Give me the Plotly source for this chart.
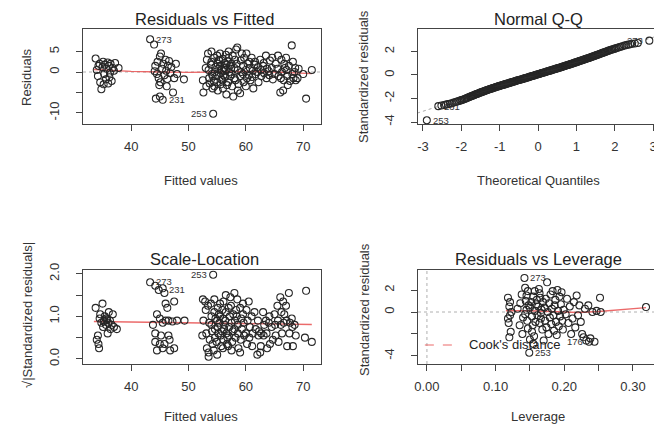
import plotly.graph_objects as go

# The page body has an 8px margin, so the figure is drawn 8px in from the window corner.
WIN_W, WIN_H = 662, 425
OFF = 8
W, H = WIN_W - OFF, WIN_H - OFF

# ---------------- Residuals vs Fitted (fitted, residual) ----------------
rvf_points = [
    (33.8, 3.3), (34.0, 0.5), (34.2, -1.0), (34.5, 2.0), (34.6, -2.5), (34.8, -4.2), (35.0, 1.2),
    (35.1, 2.5), (35.3, -0.5), (35.4, 1.8), (35.6, -1.8), (35.7, 0.8), (35.9, 2.3), (36.0, -2.8),
    (36.1, 1.5), (36.3, -0.2), (36.4, 2.0), (36.6, -2.2), (36.8, 1.0), (37.0, 0.3), (37.2, 2.2),
    (35.2, -3.0), (34.3, 1.5), (36.2, -1.3), (37.8, 1.0),
    (43.3, 8.0), (44.0, 6.7), (44.2, 1.5), (44.5, -0.5), (44.6, 2.5), (44.8, -1.5), (45.0, 3.8),
    (45.1, -2.5), (45.2, 4.5), (45.4, 0.8), (45.5, -6.8), (45.6, 2.0), (45.8, -0.8), (46.0, 3.0),
    (46.1, 0.3), (46.3, -1.7), (46.4, 1.5), (46.6, 2.7), (46.8, -0.3), (47.0, 1.2), (47.3, -5.0),
    (47.5, -1.5), (44.3, -6.5), (45.0, -6.0), (46.2, -3.5), (44.9, -3.2), (48.0, -0.5),
    (49.2, -1.8), (47.8, 2.0), (44.1, 0.2),
    (52.5, -2.0), (52.6, -5.0), (53.0, 1.0), (53.1, -3.5), (53.2, 3.0),
    (53.5, 0.5), (53.6, -1.5), (53.4, 4.5), (53.7, -2.8),
    (54.0, 2.5), (54.1, -0.5), (53.9, 1.8), (54.2, -4.0), (54.0, 5.0), (54.2, -1.0),
    (54.3, -10.2),
    (54.5, 3.5), (54.6, 0.0), (54.4, -2.2), (54.7, 1.2), (54.5, -3.5),
    (55.0, 4.0), (55.1, 2.0), (54.9, -1.0), (55.2, 0.8), (55.0, -2.5), (55.1, -4.5), (55.3, 3.0),
    (55.5, 1.5), (55.6, -0.3), (55.4, 2.8), (55.7, -1.8), (55.5, 4.5), (55.6, -3.0), (55.8, 0.5),
    (56.0, 3.2), (56.1, 0.2), (55.9, -2.0), (56.2, 1.0), (56.0, -4.0), (56.3, 2.2), (56.1, -0.8),
    (56.5, 4.2), (56.6, 1.8), (56.4, -1.2), (56.7, -3.2), (56.5, 0.6), (56.8, 2.6), (56.6, -5.5),
    (57.0, 5.0), (57.1, 0.0), (56.9, -2.5), (57.2, 1.5), (57.0, 3.5), (57.3, -1.0),
    (57.5, 2.0), (57.6, -3.5), (57.4, 0.8), (57.7, 4.0), (57.5, -0.5), (57.8, -6.0),
    (58.0, 1.0), (58.1, 3.0), (58.2, -2.0), (58.3, 5.5), (58.0, -1.5),
    (58.5, 6.0), (58.6, 0.5), (58.7, -3.0), (58.4, 2.0), (58.6, -4.5),
    (59.0, -1.0), (59.1, 2.8), (59.2, 0.0), (59.0, -5.2), (59.3, 4.5),
    (59.5, 1.5), (59.6, -2.5), (59.7, 3.5), (59.5, -0.5),
    (60.0, 0.5), (60.1, 4.5), (60.2, -1.5), (60.3, 2.0), (60.0, -3.5),
    (60.5, -0.8), (60.6, 2.5), (60.7, 1.0), (60.8, -2.0),
    (61.0, 3.5), (61.2, 0.3), (61.1, -1.2), (61.3, -4.0),
    (61.5, 1.8), (61.7, -0.5), (61.6, 2.5),
    (62.0, 0.0), (62.2, -2.5), (62.1, 1.2),
    (62.5, 3.0), (62.7, -1.0), (62.6, 0.5),
    (63.0, 1.5), (63.2, -0.3), (63.1, 2.2),
    (63.5, 4.0), (63.7, 0.8), (63.6, -1.5),
    (64.0, 0.2), (64.2, 2.8), (64.1, -0.8),
    (64.5, 1.0), (64.7, -1.8), (64.6, 3.5),
    (65.0, -0.5), (65.2, 2.0),
    (65.5, 0.8), (65.7, -1.0), (65.6, 4.0),
    (66.0, -5.0), (66.2, 3.0), (66.1, -1.5), (66.3, 0.0),
    (66.5, -4.5), (66.7, 2.0), (66.6, -2.0), (66.8, 1.0),
    (67.0, 3.5), (67.2, -1.0), (67.1, 0.5), (67.3, -3.2),
    (67.5, 1.5), (67.7, -2.2),
    (68.0, 6.5), (68.2, 2.5), (68.1, -0.5), (68.3, -1.5),
    (68.5, 0.0), (68.7, -2.0), (68.6, 1.0),
    (69.0, -1.5), (69.2, 0.8),
    (70.0, -0.5), (70.5, -6.5), (71.5, 0.5),
]
rvf_fitted = [p[0] for p in rvf_points]
rvf_resid = [p[1] for p in rvf_points]
rvf_smooth_x = [33.5, 36, 40, 45, 50, 55, 60, 65, 68, 71.5]
rvf_smooth_y = [0.6, 0.4, 0.15, 0.0, -0.1, 0.0, 0.15, 0.0, -0.2, -0.4]
rvf_label_x = [43.3, 45.5, 54.3]
rvf_label_y = [8.0, -6.8, -10.2]
rvf_label_text = ["273", "231", "253"]
rvf_label_side = ["right", "right", "left"]

# ---------------- Normal Q-Q ----------------
qq_theoretical = [
    -2.90, -2.60, -2.45, -2.35, -2.25, -2.15, -2.07, -2.00, -1.93, -1.87, -1.81, -1.75, -1.70,
    -1.65, -1.60, -1.55, -1.50, -1.45, -1.40, -1.35, -1.30, -1.25, -1.20, -1.15, -1.10, -1.05,
    -1.00, -0.95, -0.90, -0.85, -0.80, -0.75, -0.70, -0.65, -0.60, -0.55, -0.50, -0.45, -0.40,
    -0.35, -0.30, -0.25, -0.20, -0.15, -0.10, -0.05, 0.00, 0.05, 0.10, 0.15, 0.20, 0.25, 0.30,
    0.35, 0.40, 0.45, 0.50, 0.55, 0.60, 0.65, 0.70, 0.75, 0.80, 0.85, 0.90, 0.95, 1.00, 1.05,
    1.10, 1.15, 1.20, 1.25, 1.30, 1.35, 1.40, 1.45, 1.50, 1.55, 1.60, 1.65, 1.70, 1.75, 1.81,
    1.87, 1.93, 2.00, 2.07, 2.15, 2.25, 2.35, 2.45, 2.60, 2.90,
]
qq_sample = [
    -3.85, -2.65, -2.55, -2.48, -2.40, -2.30, -2.22, -2.14, -2.06, -1.98, -1.90, -1.82, -1.75,
    -1.68, -1.62, -1.55, -1.49, -1.43, -1.37, -1.31, -1.25, -1.19, -1.14, -1.08, -1.03, -0.98,
    -0.93, -0.88, -0.83, -0.78, -0.73, -0.68, -0.63, -0.58, -0.53, -0.48, -0.43, -0.39, -0.34,
    -0.29, -0.24, -0.19, -0.14, -0.09, -0.04, 0.01, 0.06, 0.11, 0.16, 0.21, 0.26, 0.31, 0.36,
    0.41, 0.46, 0.51, 0.56, 0.61, 0.66, 0.71, 0.77, 0.82, 0.87, 0.93, 0.98, 1.04, 1.09, 1.15,
    1.20, 1.26, 1.31, 1.37, 1.42, 1.48, 1.54, 1.60, 1.66, 1.72, 1.78, 1.84, 1.90, 1.96, 2.03,
    2.10, 2.17, 2.24, 2.31, 2.40, 2.50, 2.58, 2.65, 2.72, 2.92,
]
qq_theoretical_more = [
    -2.52, -2.40, -2.30, -2.20, -2.11, -2.03, -1.97, -1.90, -1.84, -1.78,
    -1.725, -1.675, -1.625, -1.575, -1.525, -1.475, -1.425, -1.375, -1.325, -1.275,
    -1.225, -1.175, -1.125, -1.075, -1.025, -0.975, -0.925, -0.875, -0.825, -0.775,
    -0.725, -0.675, -0.625, -0.575, -0.525, -0.475, -0.425, -0.375, -0.325, -0.275,
    -0.225, -0.175, -0.125, -0.075, -0.025, 0.025, 0.075, 0.125, 0.175, 0.225,
    0.275, 0.325, 0.375, 0.425, 0.475, 0.525, 0.575, 0.625, 0.675, 0.725,
    0.775, 0.825, 0.875, 0.925, 0.975, 1.025, 1.075, 1.125, 1.175, 1.225,
    1.275, 1.325, 1.375, 1.425, 1.475, 1.525, 1.575, 1.625, 1.675, 1.725,
    1.78, 1.84, 1.90, 1.97, 2.03, 2.11, 2.20, 2.30, 2.40, 2.52,
]
qq_sample_more = [
    -2.60, -2.52, -2.44, -2.35, -2.26, -2.18, -2.10, -2.02, -1.94, -1.86,
    -1.79, -1.72, -1.65, -1.59, -1.52, -1.46, -1.40, -1.34, -1.28, -1.22,
    -1.17, -1.11, -1.06, -1.00, -0.95, -0.90, -0.85, -0.80, -0.75, -0.70,
    -0.65, -0.60, -0.55, -0.50, -0.45, -0.41, -0.36, -0.31, -0.26, -0.21,
    -0.16, -0.11, -0.06, -0.01, 0.04, 0.09, 0.14, 0.19, 0.24, 0.29,
    0.34, 0.39, 0.44, 0.49, 0.54, 0.59, 0.64, 0.69, 0.74, 0.80,
    0.85, 0.90, 0.96, 1.01, 1.07, 1.12, 1.18, 1.23, 1.29, 1.34,
    1.40, 1.45, 1.51, 1.57, 1.63, 1.69, 1.75, 1.81, 1.87, 1.93,
    1.99, 2.07, 2.14, 2.20, 2.28, 2.36, 2.45, 2.54, 2.62, 2.68,
]
qq_line_x = [-3.3, 3.3]
qq_line_y = [-3.40, 3.52]
qq_label_x = [2.90, -2.90, -2.60]
qq_label_y = [2.92, -3.85, -2.65]
qq_label_text = ["273", "253", "231"]
qq_label_side = ["left", "right", "right"]

# ---------------- Scale-Location (fitted, sqrt|std resid|) ----------------
sl_points = [
    (33.8, 1.2), (34.0, 0.45), (34.2, 0.55), (34.3, 0.35), (34.5, 0.95), (34.6, 1.05), (34.8, 0.85),
    (35.0, 1.3), (35.1, 0.75), (35.3, 0.9), (35.4, 1.0), (35.6, 0.8), (35.7, 0.95), (35.9, 0.6),
    (36.0, 0.85), (36.1, 1.1), (36.3, 0.9), (36.4, 0.7), (36.6, 0.8), (36.8, 1.05), (37.0, 0.75),
    (37.5, 0.7), (34.4, 0.25), (35.2, 0.88), (35.8, 0.92),
    (43.3, 1.80), (44.2, 1.72), (44.8, 1.62), (45.5, 1.66), (45.8, 1.55), (46.0, 1.30), (46.3, 1.20),
    (47.5, 1.35), (44.5, 1.05), (45.0, 0.95), (45.5, 0.85), (46.0, 0.90), (46.5, 0.90), (47.2, 0.88),
    (48.0, 0.90), (49.3, 0.90), (43.8, 0.80), (44.2, 0.60), (45.2, 0.55), (46.5, 0.55), (44.2, 0.40),
    (45.8, 0.35), (46.7, 0.45), (45.5, 0.25), (44.5, 0.20), (47.5, 0.25), (45.0, 0.35), (46.8, 0.20),
    (52.5, 1.4), (52.6, 0.9), (52.4, 0.55),
    (53.0, 1.15), (53.1, 0.6), (53.2, 0.25), (52.9, 1.35),
    (53.5, 0.05), (53.6, 0.85), (53.4, 1.25), (53.7, 0.45), (53.5, 0.15),
    (54.0, 1.0), (54.1, 0.65), (53.9, 1.3), (54.2, 0.35), (54.0, 0.8),
    (54.3, 1.98),
    (54.5, 1.1), (54.6, 0.5), (54.4, 0.2), (54.7, 0.95), (54.5, 1.4), (54.6, 0.7),
    (55.0, 0.9), (55.1, 1.2), (54.9, 0.4), (55.2, 0.6), (55.0, 0.1), (55.3, 1.05), (55.1, 0.75),
    (55.5, 1.3), (55.6, 0.55), (55.4, 0.85), (55.7, 0.3), (55.5, 1.0), (55.8, 0.65),
    (56.0, 0.95), (56.1, 0.45), (55.9, 1.15), (56.2, 0.7), (56.0, 0.25), (56.3, 0.8), (56.1, 1.35),
    (56.5, 1.5), (56.6, 0.6), (56.4, 0.9), (56.7, 0.35), (56.5, 1.1), (56.8, 0.5),
    (57.0, 1.2), (57.1, 0.75), (56.9, 0.3), (57.2, 1.0), (57.0, 0.55), (57.3, 1.45),
    (57.5, 0.85), (57.6, 0.4), (57.4, 1.25), (57.7, 0.65), (57.5, 0.2), (57.8, 1.05),
    (58.0, 1.55), (58.1, 0.9), (58.2, 0.5), (58.3, 1.15), (58.0, 0.7),
    (58.5, 1.4), (58.6, 0.6), (58.7, 0.25), (58.4, 1.0), (58.6, 0.8),
    (59.0, 1.2), (59.1, 0.45), (59.2, 0.95), (59.0, 0.15), (59.3, 0.7),
    (59.5, 1.3), (59.6, 0.85), (59.7, 0.55), (59.5, 1.05),
    (60.0, 0.6), (60.1, 1.15), (60.2, 0.35), (60.3, 0.9),
    (60.5, 1.35), (60.7, 0.75), (60.6, 0.5),
    (61.0, 1.0), (61.2, 0.6), (61.1, 0.3),
    (61.5, 1.1), (61.7, 0.7),
    (62.0, 0.1), (62.2, 0.55), (62.1, 0.9), (62.3, 0.65),
    (62.5, 0.15), (62.7, 0.6), (62.6, 0.3),
    (63.0, 1.1), (63.2, 0.8), (63.1, 0.55),
    (63.5, 0.9), (63.7, 0.25), (63.6, 0.6),
    (64.0, 0.85), (64.2, 0.35), (64.1, 1.0),
    (64.5, 0.75), (64.7, 0.45),
    (65.0, 1.05), (65.2, 0.55), (65.1, 0.8),
    (65.5, 1.25), (65.7, 0.4), (65.6, 0.9),
    (66.0, 1.45), (66.2, 1.1), (66.1, 0.8), (66.3, 0.6),
    (66.5, 1.35), (66.7, 1.05), (66.6, 0.85),
    (67.0, 1.25), (67.2, 0.3), (67.1, 0.9),
    (67.5, 1.55), (67.7, 0.85), (67.6, 0.6),
    (68.0, 0.95), (68.2, 0.3), (68.1, 0.75),
    (68.5, 0.8), (68.7, 0.55),
    (70.5, 1.6), (70.3, 0.5), (71.5, 0.4),
]
sl_fitted = [p[0] for p in sl_points]
sl_value = [p[1] for p in sl_points]
sl_smooth_x = [33.5, 40, 45, 50, 55, 60, 65, 71.5]
sl_smooth_y = [0.88, 0.87, 0.86, 0.85, 0.84, 0.83, 0.82, 0.81]
sl_label_x = [43.3, 45.5, 54.3]
sl_label_y = [1.82, 1.62, 1.98]
sl_label_text = ["273", "231", "253"]
sl_label_side = ["right", "right", "left"]

# ---------------- Residuals vs Leverage (leverage, std resid) ----------------
rvl_points = [
    (0.118, 1.3), (0.120, 0.5), (0.121, -0.3), (0.119, -1.0), (0.122, -1.8), (0.120, -2.3),
    (0.123, 0.0), (0.121, 0.9), (0.118, -0.6),
    (0.132, 0.3), (0.135, -1.2), (0.138, 1.6), (0.140, -0.5), (0.136, 0.8), (0.139, -2.0),
    (0.142, 3.1), (0.143, 2.2), (0.144, 1.0), (0.145, 0.2), (0.146, -0.8), (0.147, -1.5),
    (0.148, 0.6), (0.143, -0.2), (0.145, 1.5), (0.149, -3.7), (0.150, -2.5), (0.150, 0.4),
    (0.147, 1.9),
    (0.152, 0.9), (0.153, -0.4), (0.154, -1.2), (0.155, 1.4), (0.156, -2.2), (0.157, 0.1),
    (0.158, -0.9), (0.159, 0.7), (0.155, -2.9), (0.160, 1.1), (0.153, -1.8), (0.157, 1.9),
    (0.161, -0.3), (0.162, 0.5), (0.163, 2.1), (0.164, -1.0), (0.165, 1.3), (0.166, -0.6),
    (0.167, 0.2), (0.168, -1.6), (0.169, 0.9), (0.170, -2.6), (0.164, 1.7), (0.166, -0.1),
    (0.171, 0.4), (0.172, -0.8), (0.173, 1.2), (0.174, -1.4), (0.175, 2.7), (0.176, 0.0),
    (0.177, -2.0), (0.178, 0.8), (0.179, -0.5), (0.180, 1.6),
    (0.181, -1.1), (0.182, 0.3), (0.183, 1.9), (0.184, -0.3), (0.185, -1.7), (0.186, 0.6),
    (0.187, 1.1), (0.188, -0.9), (0.189, -2.1), (0.190, 2.0),
    (0.191, 0.1), (0.192, -1.3), (0.193, 1.4), (0.194, -0.4), (0.195, 0.7), (0.196, 1.8),
    (0.197, -0.8), (0.198, -1.6), (0.199, 0.2),
    (0.202, -0.2), (0.204, 1.2), (0.206, -1.0), (0.208, 0.5), (0.210, -2.0), (0.212, -0.6),
    (0.214, 0.9), (0.216, -1.4), (0.218, 1.5), (0.220, -0.3),
    (0.222, 0.6), (0.224, -0.9), (0.226, -2.0), (0.228, -2.3), (0.230, 0.3), (0.232, -2.6),
    (0.236, -2.7), (0.235, 0.6), (0.238, -2.4), (0.241, 0.0), (0.244, -2.7), (0.247, 0.1),
    (0.252, 1.3), (0.253, 0.0),
    (0.319, 0.45),
]
rvl_leverage = [p[0] for p in rvl_points]
rvl_std_resid = [p[1] for p in rvl_points]
rvl_smooth_x = [0.115, 0.15, 0.18, 0.20, 0.22, 0.25, 0.28, 0.319]
rvl_smooth_y = [0.12, 0.12, 0.05, 0.0, -0.05, 0.05, 0.2, 0.4]
rvl_label_x = [0.142, 0.149, 0.236]
rvl_label_y = [3.1, -3.7, -2.7]
rvl_label_text = ["273", "253", "176"]
rvl_label_side = ["right", "right", "left"]
cook_legend_x = [-0.003, 0.041]
cook_legend_y = [-3.0, -3.0]

# ---------------- layout helpers ----------------
FONT = "Liberation Sans, Arial, Helvetica, sans-serif"
INK = "#262626"
RED = "rgba(232,80,80,0.85)"


def fx(p):  # window pixel -> paper fraction
    return (p - OFF) / W


def fy(p):
    return 1 - (p - OFF) / H


fig = go.Figure()

marker = dict(symbol="circle-open", size=7, color=INK, line=dict(width=1.05, color=INK))


def add_points(x, y, xa, ya):
    fig.add_trace(go.Scatter(x=x, y=y, mode="markers", marker=marker, xaxis=xa, yaxis=ya,
                             showlegend=False, hoverinfo="skip", cliponaxis=False))


def add_line(x, y, xa, ya, color, dash="solid", width=1.4):
    fig.add_trace(go.Scatter(x=x, y=y, mode="lines", line=dict(color=color, dash=dash, width=width),
                             xaxis=xa, yaxis=ya, showlegend=False, hoverinfo="skip"))


def add_labels(xs, ys, texts, sides, xa, ya):
    for x, y, t, s in zip(xs, ys, texts, sides):
        fig.add_annotation(x=x, y=y, xref=xa, yref=ya, text=t, showarrow=False,
                           xanchor="left" if s == "right" else "right",
                           xshift=4 if s == "right" else -4,
                           font=dict(family=FONT, size=9.5, color="#333"))


# Panel 1
add_line(rvf_smooth_x, rvf_smooth_y, "x", "y", RED)
add_points(rvf_fitted, rvf_resid, "x", "y")
add_labels(rvf_label_x, rvf_label_y, rvf_label_text, rvf_label_side, "x", "y")

# Panel 2
add_line(qq_line_x, qq_line_y, "x2", "y2", "#aaaaaa", dash="dot", width=1)
add_points(qq_theoretical + qq_theoretical_more, qq_sample + qq_sample_more, "x2", "y2")
add_labels(qq_label_x, qq_label_y, qq_label_text, qq_label_side, "x2", "y2")

# Panel 3
add_line(sl_smooth_x, sl_smooth_y, "x3", "y3", RED)
add_points(sl_fitted, sl_value, "x3", "y3")
add_labels(sl_label_x, sl_label_y, sl_label_text, sl_label_side, "x3", "y3")

# Panel 4
add_line(rvl_smooth_x, rvl_smooth_y, "x4", "y4", RED)
add_points(rvl_leverage, rvl_std_resid, "x4", "y4")
add_labels(rvl_label_x, rvl_label_y, rvl_label_text, rvl_label_side, "x4", "y4")
add_line(cook_legend_x, cook_legend_y, "x4", "y4", RED, dash="dash", width=1.2)
fig.add_annotation(x=0.058, y=-3.0, xref="x4", yref="y4", text="Cook's distance", showarrow=False,
                   xanchor="left", font=dict(family=FONT, size=13, color="#222"))

# gray dotted reference lines
for xr, yr in [("x", "y"), ("x4", "y4")]:
    fig.add_shape(type="line", xref=f"{xr} domain", yref=yr, x0=0, x1=1, y0=0, y1=0,
                  line=dict(color="#b0b0b0", dash="dot", width=1), layer="below")
fig.add_shape(type="line", xref="x4", yref="y4 domain", x0=0, x1=0, y0=0, y1=1,
              line=dict(color="#b0b0b0", dash="dot", width=1), layer="below")

tickfont = dict(family=FONT, size=13, color="#333")


def xaxis(domain, rng, vals, text, anchor):
    return dict(domain=domain, range=rng, tickvals=vals, ticktext=text, anchor=anchor,
                showline=True, mirror=True, linecolor="#444", linewidth=1, ticks="outside",
                ticklen=6, tickcolor="#444", tickwidth=1, showgrid=False, zeroline=False,
                tickfont=tickfont, ticklabelstandoff=4, fixedrange=True, automargin=False)


def yaxis(domain, rng, vals, text, anchor):
    return dict(domain=domain, range=rng, tickvals=vals, ticktext=text, anchor=anchor,
                showline=True, mirror=True, linecolor="#444", linewidth=1, ticks="outside",
                ticklen=6, tickcolor="#444", tickwidth=1, showgrid=False, zeroline=False,
                tickfont=tickfont, tickangle=-90, ticklabelstandoff=12, fixedrange=True,
                automargin=False)


L_dom = [fx(83), fx(321)]
R_dom = [fx(418), fx(657)]
T_dom = [fy(124), fy(29)]
B_dom = [fy(364), fy(270)]

fig.update_layout(
    width=W, height=H, margin=dict(l=0, r=0, t=0, b=0),
    paper_bgcolor="white", plot_bgcolor="white", showlegend=False,
    xaxis=xaxis(L_dom, [31.6, 73.1], [40, 50, 60, 70], ["40", "50", "60", "70"], "y"),
    yaxis=yaxis(T_dom, [-12.7, 10.5], [-10, -5, 0, 5], ["-10", "", "0", "5"], "x"),
    xaxis2=xaxis(R_dom, [-3.13, 3.10], [-3, -2, -1, 0, 1, 2, 3],
                 ["-3", "-2", "-1", "0", "1", "2", "3"], "y2"),
    yaxis2=yaxis(T_dom, [-4.17, 3.91], [-4, -2, 0, 2], ["-4", "-2", "0", "2"], "x2"),
    xaxis3=xaxis(L_dom, [31.6, 73.1], [40, 50, 60, 70], ["40", "50", "60", "70"], "y3"),
    yaxis3=yaxis(B_dom, [-0.12, 2.09], [0, 0.5, 1, 1.5, 2], ["0.0", "", "1.0", "", "2.0"], "x3"),
    xaxis4=xaxis(R_dom, [-0.013, 0.335], [0, 0.05, 0.1, 0.15, 0.2, 0.25, 0.3],
                 ["0.00", "", "0.10", "", "0.20", "", "0.30"], "y4"),
    yaxis4=yaxis(B_dom, [-4.73, 3.82], [-4, -2, 0, 2], ["-4", "", "0", "2"], "x4"),
)


def text_at(px, py, s, size, angle=0, color="#333"):
    fig.add_annotation(x=fx(px), y=fy(py), xref="paper", yref="paper", text=s, showarrow=False,
                       xanchor="center", yanchor="middle", textangle=angle,
                       font=dict(family=FONT, size=size, color=color))


# panel titles
text_at(204, 19, "Residuals vs Fitted", 16.5, color="#222")
text_at(538, 19, "Normal Q-Q", 16.5, color="#222")
text_at(204, 259, "Scale-Location", 16.5, color="#222")
text_at(538, 259, "Residuals vs Leverage", 16.5, color="#222")
# axis titles
text_at(201, 180, "Fitted values", 13)
text_at(538, 180, "Theoretical Quantiles", 13)
text_at(201, 416, "Fitted values", 13)
text_at(538, 416, "Leverage", 13)
text_at(27, 77, "Residuals", 13, angle=-90)
text_at(364, 77, "Standardized residuals", 13, angle=-90)
text_at(27, 315, "√|Standardized residuals|", 13, angle=-90)
text_at(364, 310, "Standardized residuals", 13, angle=-90)

fig.write_html("out.html")
